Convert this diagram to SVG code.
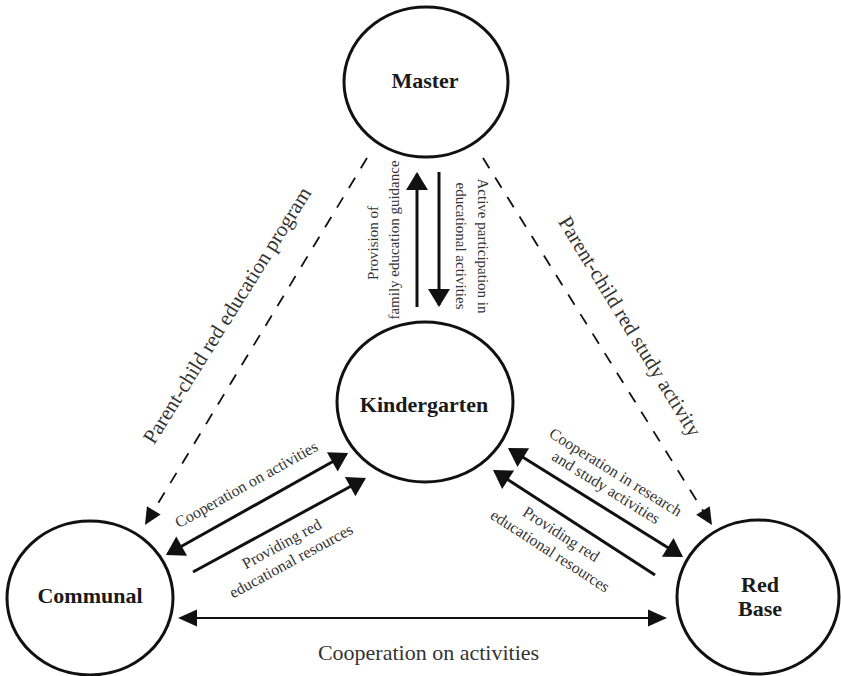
<svg xmlns="http://www.w3.org/2000/svg" width="841" height="676" viewBox="0 0 841 676">
<style>
.node ellipse{fill:#fff;stroke:#111;stroke-width:3}
.nlabel{font-family:"Liberation Serif","Times New Roman",serif;font-weight:bold;font-size:22px;fill:#1a1a1a;text-anchor:middle}
.lbl{font-family:"Liberation Serif","Times New Roman",serif;font-size:16px;fill:#333;text-anchor:middle}
.s15{font-size:15px}
.s21{font-size:21px}
.s22{font-size:22px}
.heavy{stroke:#111;stroke-width:3;fill:none}
.thin{stroke:#111;stroke-width:2;fill:none}
.dash{stroke:#111;stroke-width:1.8;fill:none;stroke-dasharray:12 11}
</style>
<defs>
<marker id="ah" markerUnits="userSpaceOnUse" markerWidth="20" markerHeight="22" refX="16" refY="11" orient="auto-start-reverse" overflow="visible"><path d="M0,0 L18,11 L0,22 z" fill="#111"/></marker>
<marker id="at" markerUnits="userSpaceOnUse" markerWidth="19" markerHeight="17" refX="17" refY="8.5" orient="auto-start-reverse" overflow="visible"><path d="M0,0 L19,8.5 L0,17 z" fill="#111"/></marker>
<marker id="ad" markerUnits="userSpaceOnUse" markerWidth="17" markerHeight="16" refX="15" refY="8" orient="auto" overflow="visible"><path d="M0,0 L17,8 L0,16 z" fill="#111"/></marker>
</defs>
<g id="connectors">
<path class="heavy" d="M417,307 L417,174" marker-end="url(#ah)"/>
<path class="heavy" d="M439,172 L439,305" marker-end="url(#ah)"/>
<path class="heavy" d="M167.7,554 L346.3,454" marker-start="url(#ah)" marker-end="url(#ah)"/>
<path class="heavy" d="M193,572 L364.2,479" marker-end="url(#ah)"/>
<path class="heavy" d="M509.7,449.1 L681.3,555.9" marker-start="url(#ah)" marker-end="url(#ah)"/>
<path class="heavy" d="M655,575 L494.7,471.1" marker-end="url(#ah)"/>
<path class="thin" d="M180,618 L665,618" marker-start="url(#at)" marker-end="url(#at)"/>
<path class="dash" d="M367,158 L146,523.3" marker-end="url(#ad)"/>
<path class="dash" d="M483,158 L710.9,523.3" marker-end="url(#ad)"/>
</g>
<g id="labels">
<text class="lbl s15" transform="translate(378,243) rotate(-90)">Provision of</text>
<text class="lbl s15" transform="translate(398.5,240) rotate(-90)">family education guidance</text>
<text class="lbl s15" transform="translate(478,246) rotate(90)">Active participation in</text>
<text class="lbl s15" transform="translate(456,246) rotate(90)">educational activities</text>
<text class="lbl s21" transform="translate(233,319) rotate(-58)">Parent-child red education program</text>
<text class="lbl s21" transform="translate(624,330) rotate(58.5)">Parent-child red study activity</text>
<text class="lbl" transform="translate(249,489) rotate(-29.3)">Cooperation on activities</text>
<text class="lbl" transform="translate(284.3,548.5) rotate(-28.5)"><tspan x="0" y="0">Providing red</tspan><tspan x="0" y="19.5">educational resources</tspan></text>
<text class="lbl" transform="translate(612.8,476.7) rotate(31.9)"><tspan x="0" y="0">Cooperation in research</tspan><tspan x="0" y="18">and study activities</tspan></text>
<text class="lbl" transform="translate(558.2,538.5) rotate(33)"><tspan x="0" y="0">Providing red</tspan><tspan x="0" y="20">educational resources</tspan></text>
<text class="lbl s22" x="428.5" y="660">Cooperation on activities</text>
</g>
<g id="master" class="node"><ellipse cx="426" cy="82" rx="82" ry="75"/><text class="nlabel" x="425" y="88">Master</text></g>
<g id="kindergarten" class="node"><ellipse cx="425" cy="402" rx="88" ry="80"/><text class="nlabel" x="424" y="412">Kindergarten</text></g>
<g id="communal" class="node"><ellipse cx="90" cy="598" rx="83" ry="77"/><text class="nlabel" x="90" y="603">Communal</text></g>
<g id="redbase" class="node"><ellipse cx="758" cy="597" rx="81" ry="77"/><text class="nlabel" x="760" y="592">Red</text><text class="nlabel" x="760" y="616">Base</text></g>
</svg>
